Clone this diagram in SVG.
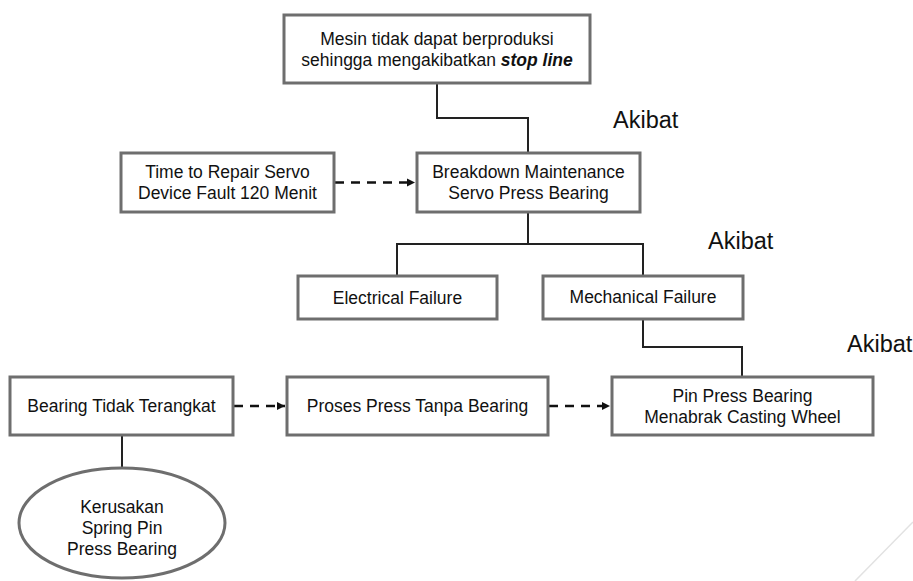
<svg xmlns="http://www.w3.org/2000/svg" width="913" height="581" viewBox="0 0 913 581">
<style>
.box{fill:#fff;stroke:#6e6e6e;stroke-width:3}
.t{font-family:"Liberation Sans",Arial,sans-serif;font-size:17.5px;fill:#111;text-anchor:middle}
.ak{font-family:"Liberation Sans",Arial,sans-serif;font-size:23.5px;fill:#111}
.ln{fill:none;stroke:#222;stroke-width:2}
.da{fill:none;stroke:#111;stroke-width:2.5;stroke-dasharray:9 7}
</style>
<defs>
<marker id="ah" markerWidth="10" markerHeight="10" refX="9" refY="5" orient="auto" markerUnits="userSpaceOnUse">
<path d="M1,1 L9,5 L1,9 Z" fill="#111"/>
</marker>
</defs>
<rect width="913" height="581" fill="#fff"/>
<line x1="913" y1="522" x2="855" y2="581" stroke="#e2e2e2" stroke-width="1.5"/>
<g id="connectors">
<polyline class="ln" points="437,83 437,118 528,118 528,153"/>
<polyline class="ln" points="528,212 528,244"/>
<polyline class="ln" points="397,276 397,244 643,244 643,276"/>
<polyline class="ln" points="643,319 643,347 742,347 742,377"/>
<line class="ln" x1="122" y1="435" x2="122" y2="468"/>
<line class="da" x1="335" y1="182.5" x2="415" y2="182.5" marker-end="url(#ah)"/>
<line class="da" x1="234" y1="406" x2="285" y2="406" marker-end="url(#ah)"/>
<line class="da" x1="549" y1="406" x2="610" y2="406" marker-end="url(#ah)"/>
</g>
<g id="n_top">
<rect class="box" x="284" y="15" width="306" height="68"/>
<text class="t" x="437" y="45">Mesin tidak dapat berproduksi</text>
<text class="t" x="437" y="66">sehingga mengakibatkan <tspan font-weight="bold" font-style="italic">stop line</tspan></text>
</g>
<g id="n_time">
<rect class="box" x="121" y="153" width="213" height="59"/>
<text class="t" x="227.5" y="178">Time to Repair Servo</text>
<text class="t" x="227.5" y="199">Device Fault 120 Menit</text>
</g>
<g id="n_breakdown">
<rect class="box" x="417" y="153" width="223" height="59"/>
<text class="t" x="528.5" y="178">Breakdown Maintenance</text>
<text class="t" x="528.5" y="199">Servo Press Bearing</text>
</g>
<g id="n_electrical">
<rect class="box" x="298" y="276" width="199" height="43"/>
<text class="t" x="397.5" y="304">Electrical Failure</text>
</g>
<g id="n_mechanical">
<rect class="box" x="543" y="276" width="200" height="43"/>
<text class="t" x="643" y="303">Mechanical Failure</text>
</g>
<g id="n_bearing">
<rect class="box" x="10" y="377" width="223" height="58"/>
<text class="t" x="121.5" y="412">Bearing Tidak Terangkat</text>
</g>
<g id="n_proses">
<rect class="box" x="287" y="377" width="261" height="58"/>
<text class="t" x="417.5" y="412">Proses Press Tanpa Bearing</text>
</g>
<g id="n_pin">
<rect class="box" x="612" y="377" width="261" height="58"/>
<text class="t" x="742.5" y="402">Pin Press Bearing</text>
<text class="t" x="742.5" y="423">Menabrak Casting Wheel</text>
</g>
<g id="n_kerusakan">
<ellipse class="box" cx="122" cy="523" rx="103" ry="55"/>
<text class="t" x="122" y="513">Kerusakan</text>
<text class="t" x="122" y="534">Spring Pin</text>
<text class="t" x="122" y="555">Press Bearing</text>
</g>
<g id="labels">
<text class="ak" x="613" y="128">Akibat</text>
<text class="ak" x="708" y="249">Akibat</text>
<text class="ak" x="847" y="352">Akibat</text>
</g>
</svg>
